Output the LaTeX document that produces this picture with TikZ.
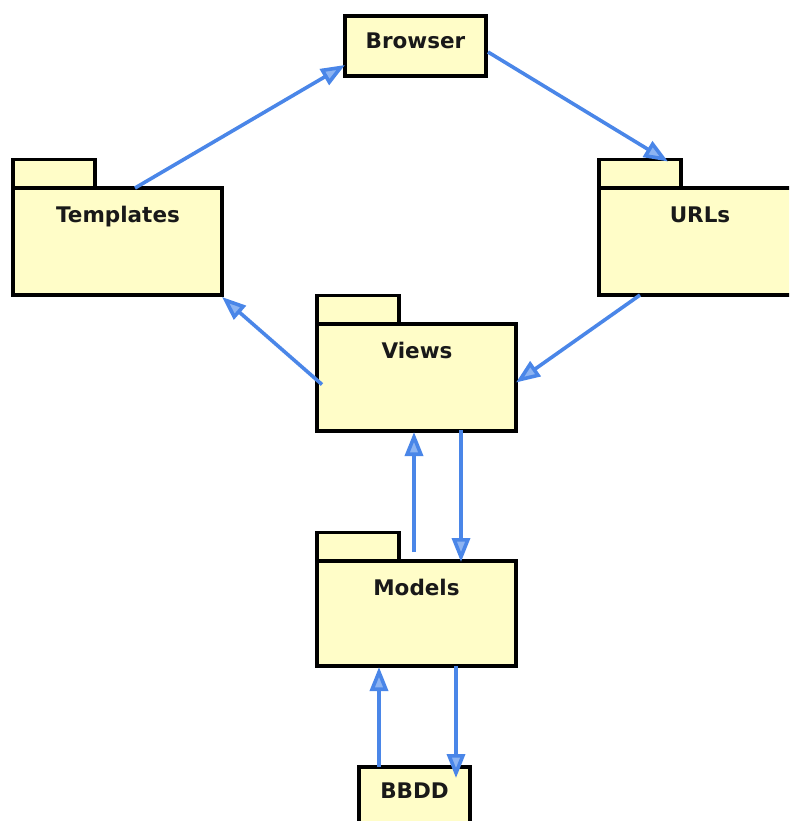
\documentclass[tikz,border=0pt]{standalone}
\usepackage{fontspec}
\setmainfont{DejaVu Sans}
\usetikzlibrary{arrows.meta,calc}
\definecolor{pkgfill}{HTML}{FFFDC8}
\definecolor{flow}{HTML}{4A86E8}
\definecolor{flowlight}{HTML}{8DB4F2}
\tikzset{
  pkg/.style={draw=black, fill=pkgfill, line width=3.5pt, rectangle, inner sep=0pt, outer sep=0pt},
  pkgtab/.style={pkg, minimum width=82pt, minimum height=30pt, anchor=south west},
  pkgname/.style={font=\bfseries\fontsize{21.5}{21.5}\selectfont, text=black!90, anchor=base, inner sep=0pt},
  flowarrow/.style={draw=flow, line width=3.6pt,
    -{Triangle[length=24pt,width=18pt,fill=flowlight,line join=miter]}},
}
\begin{document}
\begin{tikzpicture}[x=1pt,y=-1pt]
  \path[use as bounding box] (0,0) rectangle (789,821);
  \clip (0,0) rectangle (789,821);

  % plain class boxes
  \node[pkg, minimum width=141pt, minimum height=60pt] (browser) at (415.5,46) {};
  \node[pkgname] (browser-t) at (415.5,48.5) {Browser};
  \node[pkg, minimum width=111pt, minimum height=68pt] (bbdd) at (414.5,801) {};
  \node[pkgname] (bbdd-t) at (414.5,798) {BBDD};

  % package folders: tab first, body on top of it
  \node[pkgtab] (templatestab) at (13,189.5) {};
  \node[pkg, minimum width=209pt, minimum height=107pt] (templates) at (117.5,241.5) {};
  \node[pkgname] (templates-t) at (118,222) {Templates};

  \node[pkgtab] (urlstab) at (599,189.5) {};
  \node[pkg, minimum width=202pt, minimum height=107pt] (urls) at (700,241.5) {};
  \node[pkgname] (urls-t) at (700,222) {URLs};

  \node[pkgtab] (viewstab) at (317,325.5) {};
  \node[pkg, minimum width=199pt, minimum height=107pt] (views) at (416.5,377.5) {};
  \node[pkgname] (views-t) at (417,358) {Views};

  \node[pkgtab] (modelstab) at (317,562.5) {};
  \node[pkg, minimum width=199pt, minimum height=105pt] (models) at (416.5,613.5) {};
  \node[pkgname] (models-t) at (416.5,595) {Models};

  % request / response flow
  \draw[flowarrow] ($(templates.north west)+(122,0)$) -- ($(browser.south west)+(0,-11)$);
  \draw[flowarrow] ($(browser.north east)+(2,36)$) -- ($(urlstab.north east)+(-13,2)$);
  \draw[flowarrow] ($(urls.south west)+(41,0)$) -- ($(views.east)+(0,5)$);
  \draw[flowarrow] ($(views.west)+(5,7)$) -- ($(templates.south east)+(0,2)$);
  \draw[flowarrow] ($(models.north west)+(97,-9)$) -- ($(views.south west)+(97,1)$);
  \draw[flowarrow] ($(views.south west)+(144,-1)$) -- ($(models.north west)+(144,1)$);
  \draw[flowarrow] ($(bbdd.north west)+(20,0)$) -- ($(models.south west)+(62,1)$);
  \draw[flowarrow] ($(models.south west)+(139,0)$) -- ($(bbdd.north west)+(97,11)$);
\end{tikzpicture}
\end{document}
